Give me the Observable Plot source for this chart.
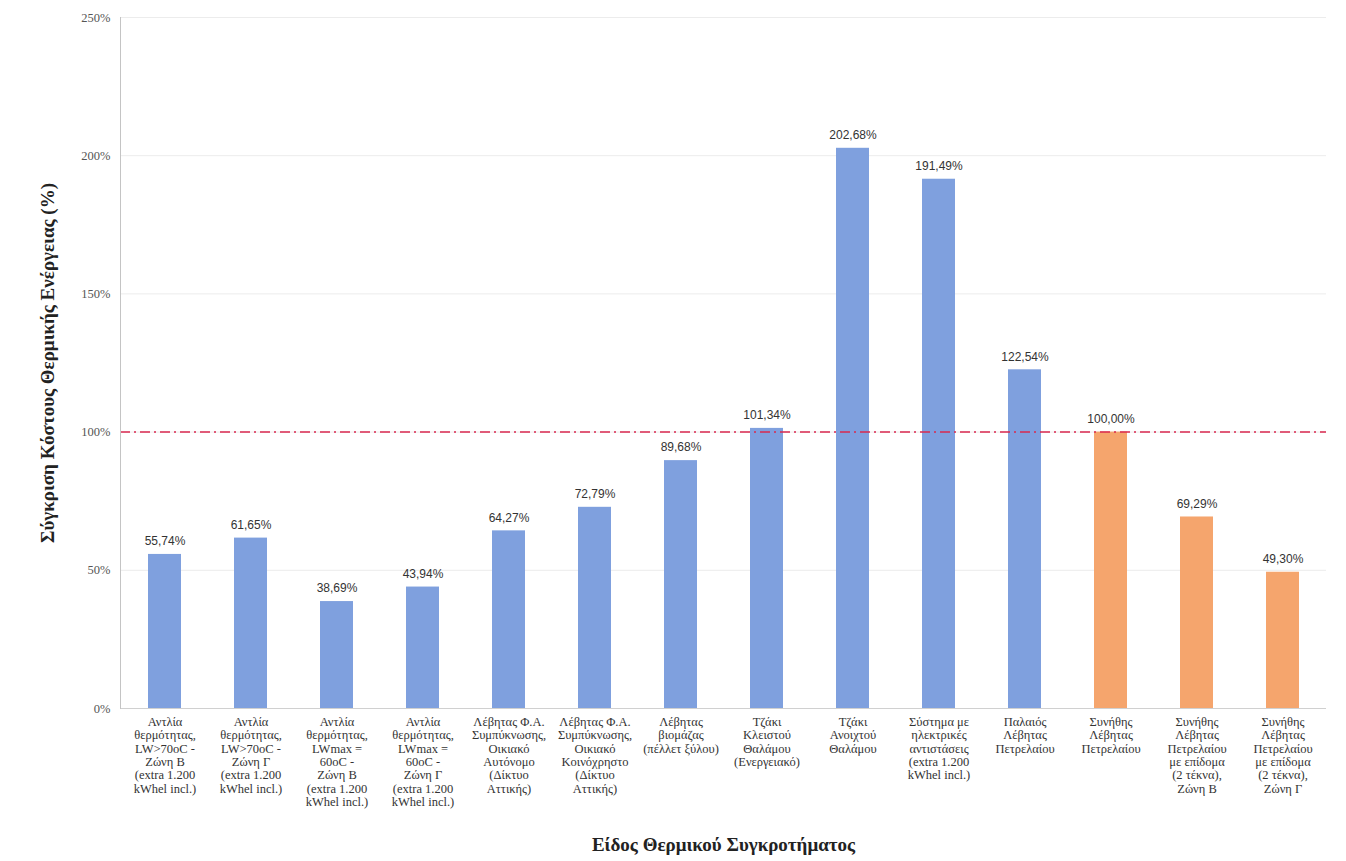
<!DOCTYPE html>
<html>
<head>
<meta charset="utf-8">
<script src="https://cdn.jsdelivr.net/npm/d3@7"></script>
<script src="https://cdn.jsdelivr.net/npm/@observablehq/plot@0.6"></script>
<style>
  html, body { margin: 0; padding: 0; background: #fff; }
  #chart { width: 1346px; height: 861px; }
</style>
</head>
<body>
<div id="chart"></div>
<script>
const categories = [
  "Αντλία\nθερμότητας,\nLW>70oC -\nΖώνη Β\n(extra 1.200\nkWhel incl.)",
  "Αντλία\nθερμότητας,\nLW>70oC -\nΖώνη Γ\n(extra 1.200\nkWhel incl.)",
  "Αντλία\nθερμότητας,\nLWmax =\n60oC -\nΖώνη Β\n(extra 1.200\nkWhel incl.)",
  "Αντλία\nθερμότητας,\nLWmax =\n60oC -\nΖώνη Γ\n(extra 1.200\nkWhel incl.)",
  "Λέβητας Φ.Α.\nΣυμπύκνωσης,\nΟικιακό\nΑυτόνομο\n(Δίκτυο\nΑττικής)",
  "Λέβητας Φ.Α.\nΣυμπύκνωσης,\nΟικιακό\nΚοινόχρηστο\n(Δίκτυο\nΑττικής)",
  "Λέβητας\nβιομάζας\n(πέλλετ ξύλου)",
  "Τζάκι\nΚλειστού\nΘαλάμου\n(Ενεργειακό)",
  "Τζάκι\nΑνοιχτού\nΘαλάμου",
  "Σύστημα με\nηλεκτρικές\nαντιστάσεις\n(extra 1.200\nkWhel incl.)",
  "Παλαιός\nΛέβητας\nΠετρελαίου",
  "Συνήθης\nΛέβητας\nΠετρελαίου",
  "Συνήθης\nΛέβητας\nΠετρελαίου\nμε επίδομα\n(2 τέκνα),\nΖώνη Β",
  "Συνήθης\nΛέβητας\nΠετρελαίου\nμε επίδομα\n(2 τέκνα),\nΖώνη Γ"
];
const values = [55.74, 61.65, 38.69, 43.94, 64.27, 72.79, 89.68, 101.34, 202.68, 191.49, 122.54, 100.00, 69.29, 49.30];
const groups = ["alt","alt","alt","alt","alt","alt","alt","alt","alt","alt","alt","base","base","base"];
const yTicks = [0, 50, 100, 150, 200, 250];
const reference = [100];

const data = categories.map((c, i) => ({cat: c, value: values[i], group: groups[i]}));
const fmt = v => v.toFixed(2).replace(".", ",") + "%";

const serif = "Liberation Serif, DejaVu Serif, serif";
const sans = "Liberation Sans, Arial, sans-serif";

const chart = Plot.plot({
  width: 1346,
  height: 861,
  marginLeft: 120,
  marginRight: 20,
  marginTop: 17,
  marginBottom: 153,
  style: {background: "#fff"},
  x: {domain: categories, paddingInner: 0.62, paddingOuter: 0.31, label: null},
  y: {domain: [0, 250], label: null},
  color: {domain: ["alt", "base"], range: ["#7fa0de", "#f5a56d"]},
  marks: [
    Plot.gridY(yTicks.slice(1), {stroke: "#ececec", strokeOpacity: 1}),
    Plot.barY(data, {x: "cat", y: "value", fill: "group"}),
    Plot.ruleY(reference, {stroke: "#d9294f", strokeWidth: 1.5, strokeDasharray: "10,4,2,4"}),
    Plot.text(data, {x: "cat", y: "value", text: d => fmt(d.value), dy: -13, fontSize: 12, fill: "#333", fontFamily: sans}),
    Plot.ruleY([0], {stroke: "#d0d0d0"}),
    Plot.axisY({ticks: yTicks, tickFormat: d => d + "%", tickSize: 0, tickPadding: 10, fontSize: 12.5, fill: "#555", fontFamily: serif,
      label: "Σύγκριση Κόστους Θερμικής Ενέργειας (%)", labelAnchor: "center", labelArrow: "none", labelOffset: 80}),
    Plot.axisX({tickSize: 0, tickPadding: 8, fontSize: 12.5, lineHeight: 1.07, fill: "#333", textAnchor: "middle", fontFamily: serif,
      label: "Είδος Θερμικού Συγκροτήματος", labelAnchor: "center", labelArrow: "none", labelOffset: 142}),
    Plot.frame({anchor: "left", stroke: "#c4c4c4"})
  ]
});
document.getElementById("chart").appendChild(chart);
const svg = d3.select(chart);
svg.selectAll('g[aria-label="y-axis label"] text, g[aria-label="x-axis label"] text')
  .style("font-weight", "bold").style("font-size", "19px").style("fill", "#222").style("font-family", serif);
</script>
</body>
</html>
